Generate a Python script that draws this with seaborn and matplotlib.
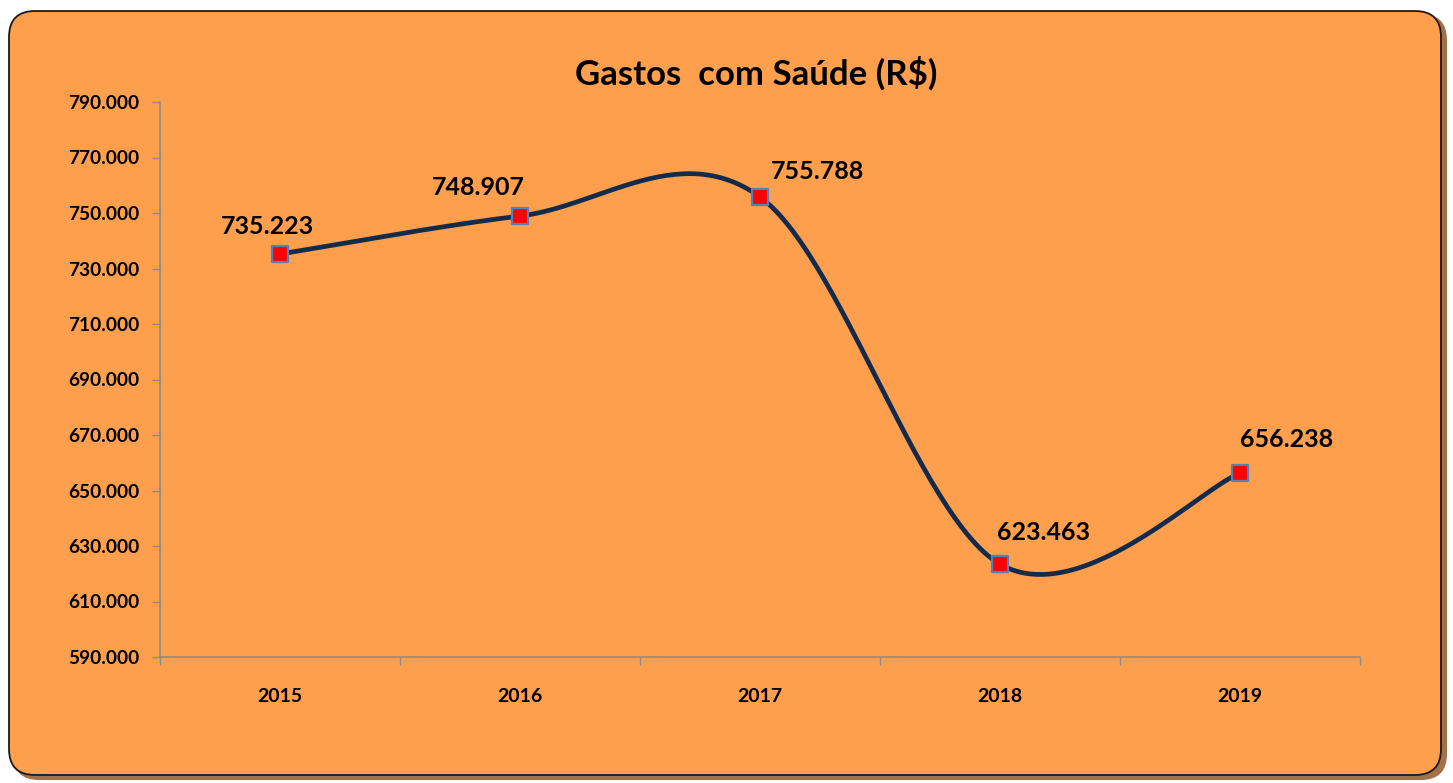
import numpy as np
import pandas as pd
import matplotlib
matplotlib.use("Agg")
import matplotlib.pyplot as plt
from matplotlib.patches import FancyBboxPatch
from matplotlib.ticker import FuncFormatter, FixedLocator
import seaborn as sns

years = ["2015", "2016", "2017", "2018", "2019"]
values = [735223, 748907, 755788, 623463, 656238]
value_labels = ["735.223", "748.907", "755.788", "623.463", "656.238"]
title = "Gastos  com Saúde (R$)"

# label offsets in pixels relative to marker
label_offsets = [(-13, 28), (-42, 29), (57, 25), (44, 32), (47, 34)]

sns.set_theme(style="white")
plt.rcParams["font.family"] = ["Lato", "DejaVu Sans"]

W, H = 1453, 783
fig = plt.figure(figsize=(W / 100, H / 100), dpi=100)
fig.patch.set_facecolor("white")

# background panel
bg = fig.add_axes([0, 0, 1, 1], zorder=0)
bg.set_xlim(0, W)
bg.set_ylim(H, 0)
bg.axis("off")
shadow = FancyBboxPatch((13, 14), 1434, 766, boxstyle="round,pad=0,rounding_size=26",
                        facecolor="#8a4f1c", edgecolor="none", alpha=0.8)
bg.add_patch(shadow)
panel = FancyBboxPatch((9, 11), 1432, 764, boxstyle="round,pad=0,rounding_size=26",
                       facecolor="#FE9F4E", edgecolor="#1a1a1a", linewidth=1.3)
bg.add_patch(panel)

ax = fig.add_axes([160 / W, 1 - 657 / H, 1200 / W, 555 / H], zorder=1)
ax.set_facecolor("none")

x = np.arange(len(years), dtype=float)
y = np.array(values, dtype=float)

# Excel-style smoothed line (Bezier with 1/6 tangents)
def smooth(xs, ys, n=60):
    outx, outy = [], []
    P = np.column_stack([xs, ys])
    for i in range(len(P) - 1):
        p0, p3 = P[i], P[i + 1]
        prev = P[i - 1] if i > 0 else P[i]
        nxt = P[i + 2] if i + 2 < len(P) else P[i + 1]
        c1 = p0 + (p3 - prev) / 6
        c2 = p3 - (nxt - p0) / 6
        t = np.linspace(0, 1, n)[:, None]
        b = (1 - t) ** 3 * p0 + 3 * (1 - t) ** 2 * t * c1 + 3 * (1 - t) * t ** 2 * c2 + t ** 3 * p3
        outx.extend(b[:, 0])
        outy.extend(b[:, 1])
    return np.array(outx), np.array(outy)

sx, sy = smooth(x, y)
curve = pd.DataFrame({"x": sx, "y": sy})
sns.lineplot(data=curve, x="x", y="y", ax=ax, color="#132B4A", linewidth=3.4,
             sort=False, estimator=None, zorder=3)

pts = pd.DataFrame({"x": x, "y": y})
sns.scatterplot(data=pts, x="x", y="y", ax=ax, marker="s", s=130, color="#FF0000",
                edgecolor="#4F81BD", linewidth=1.6, zorder=4)

for xi, yi, lab, (dx, dy) in zip(x, y, value_labels, label_offsets):
    ax.annotate(lab, (xi, yi), xytext=(dx, dy), textcoords="offset pixels",
                ha="center", va="center", fontsize=18, fontweight="bold", color="black")

ax.set_xlim(-0.5, len(years) - 0.5)
ax.set_ylim(590000, 790000)
ax.set_yticks(np.arange(590000, 790001, 20000))
ax.yaxis.set_major_formatter(FuncFormatter(lambda v, p: f"{int(v):,}".replace(",", ".")))

ax.xaxis.set_major_locator(FixedLocator(np.arange(-0.5, len(years), 1.0)))
ax.xaxis.set_minor_locator(FixedLocator(x))
ax.set_xticklabels([""] * len(ax.get_xticks()))
ax.set_xticklabels(years, minor=True)
ax.tick_params(axis="x", which="major", length=6, width=1, color="#8c8c8c", direction="out", bottom=True)
ax.tick_params(axis="x", which="minor", length=0, pad=22, labelsize=14, bottom=True)
ax.tick_params(axis="y", length=6, width=1, color="#8c8c8c", direction="out", labelsize=13.8, pad=9, left=True)
for lab in ax.get_xticklabels(minor=True) + ax.get_yticklabels():
    lab.set_fontweight("bold")
    lab.set_color("black")

for s in ["top", "right"]:
    ax.spines[s].set_visible(False)
for s in ["left", "bottom"]:
    ax.spines[s].set_color("#8c8c8c")
    ax.spines[s].set_linewidth(1.2)
ax.set_xlabel("")
ax.set_ylabel("")
ax.grid(False)

fig.text(756 / W, 1 - 73 / H, title, ha="center", va="center", fontsize=25,
         fontweight="bold", color="black")

fig.savefig("out.png", dpi=100, facecolor="white")
